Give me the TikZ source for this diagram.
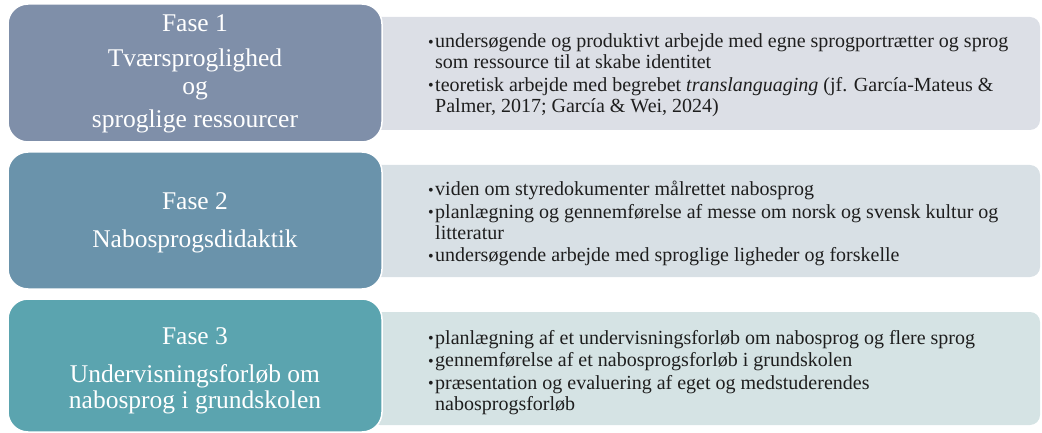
\documentclass[tikz,border=0pt]{standalone}
\usepackage{fontspec}
\setmainfont{Liberation Serif}
\newfontfamily\detailfont{Liberation Serif}
\definecolor{pone}{HTML}{7F8FA9}
\definecolor{ptwo}{HTML}{6A93AB}
\definecolor{pthree}{HTML}{5BA4AF}
\definecolor{done}{HTML}{DCDFE6}
\definecolor{dtwo}{HTML}{D8E0E5}
\definecolor{dthree}{HTML}{D5E3E4}
\definecolor{txtdark}{HTML}{1E1E1E}
\newcommand{\bitem}[1]{\noindent\hangindent=7pt\hangafter=1\makebox[7pt][l]{\raisebox{0.5pt}{\fontsize{16}{16}\selectfont\textbullet}}#1\par}
\newcommand{\itembox}[1]{\begin{minipage}[t]{640pt}\detailfont\fontsize{20}{21}\selectfont\setlength{\parskip}{1.5pt}\setlength{\parindent}{0pt}#1\end{minipage}}
\begin{document}
\begin{tikzpicture}[x=1pt,y=-1pt,
  phasebox/.style={draw=white, line width=1.5pt, rounded corners=20pt, minimum width=374pt, inner sep=0pt},
  detailbox/.style={rounded corners=10pt, minimum width=670pt, inner sep=0pt},
  ptext/.style={anchor=base, text=white, inner sep=0pt, font=\fontsize{25.5}{28}\selectfont},
  dtext/.style={anchor=base west, inner sep=0pt, text=txtdark}]
\useasboundingbox (0,0) rectangle (1042,433);
% detail boxes (behind)
\node[detailbox, fill=done, minimum height=113pt] (d1) at (705,73.5) {};
\node[detailbox, fill=dtwo, minimum height=112pt] (d2) at (705,221) {};
\node[detailbox, fill=dthree, minimum height=113pt] (d3) at (705,368.5) {};
% phase boxes
\node[phasebox, fill=pone, minimum height=138pt] (p1) at (195,73) {};
\node[phasebox, fill=ptwo, minimum height=137pt] (p2) at (195,220.5) {};
\node[phasebox, fill=pthree, minimum height=133pt] (p3) at (195,365.5) {};
% phase texts
\node[ptext] (p1a) at (195,32) {Fase 1};
\node[ptext] (p1b) at (195,67) {Tværsproglighed};
\node[ptext] (p1c) at (195,95) {og};
\node[ptext] (p1d) at (195,128) {sproglige ressourcer};
\node[ptext] (p2a) at (195,210) {Fase 2};
\node[ptext] (p2b) at (195,247) {Nabosprogsdidaktik};
\node[ptext] (p3a) at (195,344) {Fase 3};
\node[ptext] (p3b) at (195,382) {Undervisningsforløb om};
\node[ptext] (p3c) at (195,408) {nabosprog i grundskolen};
% detail texts
\node[dtext] (t1) at (428,48) {\itembox{%
\bitem{undersøgende og produktivt arbejde med egne sprogportrætter og sprog\newline som ressource til at skabe identitet}%
\bitem{teoretisk arbejde med begrebet \textit{translanguaging} (jf. García-Mateus \&\newline Palmer, 2017; García \& Wei, 2024)}}};
\node[dtext] (t2) at (428,196) {\itembox{%
\bitem{viden om styredokumenter målrettet nabosprog}%
\bitem{planlægning og gennemførelse af messe om norsk og svensk kultur og\newline litteratur}%
\bitem{undersøgende arbejde med sproglige ligheder og forskelle}}};
\node[dtext] (t3) at (428,344) {\itembox{%
\bitem{planlægning af et undervisningsforløb om nabosprog og flere sprog}%
\bitem{gennemførelse af et nabosprogsforløb i grundskolen}%
\bitem{præsentation og evaluering af eget og medstuderendes\newline nabosprogsforløb}}};
\end{tikzpicture}
\end{document}
